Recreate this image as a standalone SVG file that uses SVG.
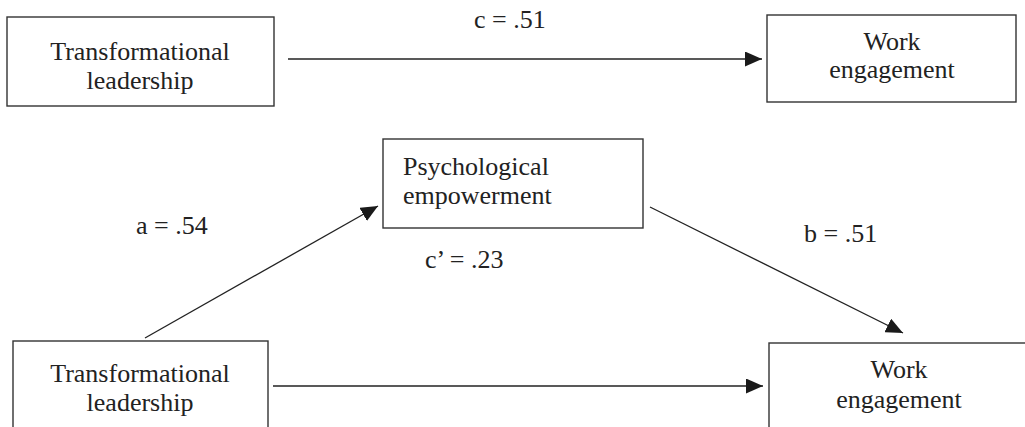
<svg xmlns="http://www.w3.org/2000/svg" width="1025" height="427" viewBox="0 0 1025 427">
  <style>
    .box { fill: #ffffff; stroke: #333333; stroke-width: 1.4; }
    .lbl { font-family: "Liberation Serif", "Times New Roman", serif; font-size: 26px; fill: #222222; }
    .mid { text-anchor: middle; }
    .edge { stroke: #222222; stroke-width: 1.3; fill: none; marker-end: url(#head); }
  </style>
  <defs>
    <marker id="head" markerUnits="userSpaceOnUse" markerWidth="18" markerHeight="15" refX="17" refY="7.5" orient="auto">
      <path d="M0,0 L17,7.5 L0,15 z" fill="#1a1a1a"/>
    </marker>
  </defs>
  <rect width="1025" height="427" fill="#ffffff"/>

  <!-- connectors and path coefficients -->
  <g id="connectors">
    <line class="edge" x1="288" y1="59" x2="762" y2="59"/>
    <line class="edge" x1="145" y1="338" x2="378" y2="206"/>
    <line class="edge" x1="650" y1="207" x2="903" y2="333"/>
    <line class="edge" x1="273" y1="386" x2="763" y2="386"/>
    <text class="lbl" x="474" y="28">c = .51</text>
    <text class="lbl" x="136" y="234">a = .54</text>
    <text class="lbl" x="804" y="242">b = .51</text>
    <text class="lbl" x="425" y="268">c’ = .23</text>
  </g>

  <!-- top model: total effect -->
  <g id="tl-top">
    <rect class="box" x="7" y="17" width="267" height="89"/>
    <text class="lbl mid" x="140" y="60">Transformational</text>
    <text class="lbl mid" x="140" y="89">leadership</text>
  </g>
  <g id="we-top">
    <rect class="box" x="767" y="15" width="249" height="87"/>
    <text class="lbl mid" x="892" y="50">Work</text>
    <text class="lbl mid" x="892" y="78">engagement</text>
  </g>

  <!-- bottom model: mediation -->
  <g id="pe">
    <rect class="box" x="383" y="139" width="260" height="89"/>
    <text class="lbl" x="403" y="175">Psychological</text>
    <text class="lbl" x="403" y="204">empowerment</text>
  </g>
  <g id="tl-bottom">
    <rect class="box" x="13" y="341" width="255" height="100"/>
    <text class="lbl mid" x="140" y="382">Transformational</text>
    <text class="lbl mid" x="140" y="411">leadership</text>
  </g>
  <g id="we-bottom">
    <rect class="box" x="769" y="343" width="270" height="100"/>
    <text class="lbl mid" x="899" y="378">Work</text>
    <text class="lbl mid" x="899" y="408">engagement</text>
  </g>
</svg>
